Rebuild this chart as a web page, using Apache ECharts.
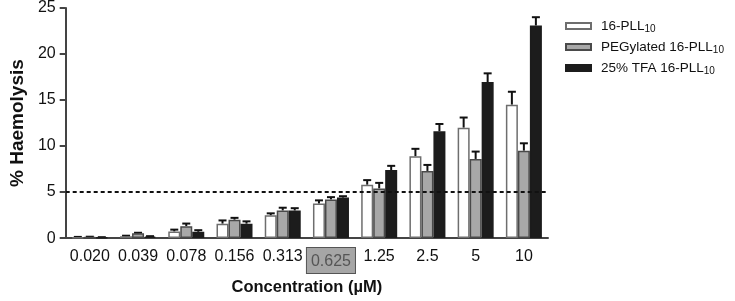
<!DOCTYPE html>
<html><head><meta charset="utf-8">
<script src="https://cdn.jsdelivr.net/npm/echarts@6/dist/echarts.min.js"></script>
<style>html,body{margin:0;padding:0;background:#fff}#c{width:735px;height:301px}</style>
</head><body><div id="c"></div>
<script>
const categories = ['0.020','0.039','0.078','0.156','0.313','0.625','1.25','2.5','5','10'];
const seriesNames = ['16-PLL10','PEGylated 16-PLL10','25% TFA 16-PLL10'];
const pllMean   = [0.10, 0.20, 0.72, 1.57, 2.47, 3.75, 5.8, 8.9, 12.0, 14.5];
const pllErr    = [0.03, 0.06, 0.20, 0.35, 0.22, 0.35, 0.50, 0.80, 1.10, 1.40];
const pegMean   = [0.12, 0.52, 1.30, 2.00, 3.00, 4.20, 5.4, 7.3, 8.6, 9.5];
const pegErr    = [0.03, 0.06, 0.28, 0.20, 0.30, 0.25, 0.60, 0.65, 0.80, 0.80];
const tfaMean   = [0.08, 0.16, 0.68, 1.57, 3.00, 4.40, 7.4, 11.6, 16.95, 23.1];
const tfaErr    = [0.02, 0.05, 0.18, 0.25, 0.25, 0.15, 0.45, 0.80, 0.95, 0.90];
const yTicks = [0, 5, 10, 15, 20, 25];
const threshold = 5;

const means = [pllMean, pegMean, tfaMean];
const errs = [pllErr, pegErr, tfaErr];
const fills = ['#ffffff', '#a8a8a8', '#1c1c1c'];
const borders = ['#6e6e6e', '#4a4a4a', '#1c1c1c'];
const BW = 12;

const chart = echarts.init(document.getElementById('c'));
const series = [];
means.forEach((m, i) => {
  const s = {
    name: seriesNames[i], type: 'bar', data: m, barWidth: BW, barGap: '0%',
    itemStyle: { color: fills[i], borderColor: borders[i], borderWidth: 1.5 },
    silent: true, z: 2
  };
  if (i === 0) {
    s.markLine = {
      silent: true, symbol: 'none', label: { show: false },
      lineStyle: { color: '#111', type: [4, 3], width: 2 },
      data: [{ yAxis: threshold }]
    };
  }
  series.push(s);
});
means.forEach((m, i) => {
  series.push({
    type: 'custom', silent: true, z: 1,
    data: m.map((v, k) => [k, v, v + errs[i][k]]),
    renderItem: function (params, api) {
      const base = api.coord([api.value(0), api.value(1)]);
      const top = api.coord([api.value(0), api.value(2)]);
      const x = base[0] + (i - 1) * BW;
      return {
        type: 'group', children: [
          { type: 'line', shape: { x1: x, y1: base[1], x2: x, y2: top[1] }, style: { stroke: '#111', lineWidth: 2 } },
          { type: 'line', shape: { x1: x - 4, y1: top[1], x2: x + 4, y2: top[1] }, style: { stroke: '#111', lineWidth: 2 } }
        ]
      };
    }
  });
});

chart.setOption({
  animation: false,
  textStyle: { fontFamily: 'Liberation Sans, Arial, sans-serif' },
  grid: { left: 58, right: 187, top: 8, bottom: 59, containLabel: false },
  legend: {
    orient: 'vertical', left: 560, top: 14, itemWidth: 25, itemHeight: 6, itemGap: 6,
    icon: 'rect',
    data: seriesNames,
    formatter: function (n) { return n.replace(/10$/, '') + '{sub|10}'; },
    textStyle: {
      fontSize: 13.5, color: '#111', padding: [0, 0, 0, 5],
      rich: { sub: { fontSize: 10, color: '#111', verticalAlign: 'bottom', padding: [6, 0, 0, 0] } }
    }
  },
  xAxis: {
    type: 'category', data: categories,
    name: 'Concentration (µM)', nameLocation: 'middle', nameGap: 40,
    nameTextStyle: { fontSize: 16.5, fontWeight: 'bold', color: '#111' },
    axisLine: { lineStyle: { color: '#444', width: 2 } },
    axisTick: { alignWithLabel: true, length: 6, lineStyle: { color: '#444', width: 2 } },
    axisLabel: {
      interval: 0, fontSize: 16, color: '#111', margin: 10,
      formatter: function (v) { return v === '0.625' ? '{box|' + v + '}' : v; },
      rich: {
        box: { fontSize: 16, color: '#555', backgroundColor: '#a6a6a6', borderColor: '#555', borderWidth: 1, padding: [5, 4, 4, 4] }
      }
    }
  },
  yAxis: {
    type: 'value', min: 0, max: 25, interval: 5,
    name: '% Haemolysis', nameLocation: 'middle', nameGap: 32, nameRotate: 90,
    nameTextStyle: { fontSize: 19, fontWeight: 'bold', color: '#111' },
    axisLine: { show: true, lineStyle: { color: '#444', width: 2 } },
    axisTick: { show: true, length: 6, lineStyle: { color: '#444', width: 2 } },
    axisLabel: { fontSize: 16, color: '#111', margin: 10, formatter: function (v) { return yTicks.indexOf(v) >= 0 ? String(v) : ''; } },
    splitLine: { show: false }
  },
  series: series
});
</script></body></html>
